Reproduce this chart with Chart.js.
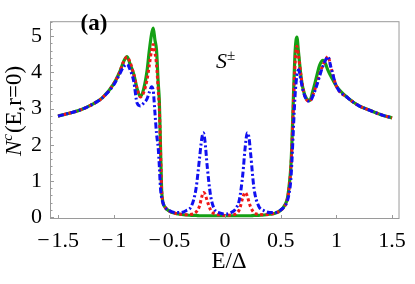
<!DOCTYPE html>
<html><head><meta charset="utf-8">
<script src="https://cdn.jsdelivr.net/npm/chart.js@4"></script>
<style>html,body{margin:0;padding:0;background:#fff}#wrap{width:415px;height:284px}</style>
</head><body><div id="wrap"><canvas id="c" width="415" height="284"></canvas></div>
<script>
const energy = [-1.5,-1.4,-1.3,-1.2,-1.1,-1.0,-0.95,-0.91,-0.88,-0.85,-0.82,-0.79,-0.76,-0.73,-0.7,-0.68,-0.66,-0.645,-0.63,-0.615,-0.6,-0.59,-0.58,-0.57,-0.56,-0.54,-0.5,-0.45,-0.4,-0.35,-0.3,-0.26,-0.23,-0.21,-0.195,-0.18,-0.16,-0.13,-0.1,-0.05,0,0.05,0.1,0.13,0.16,0.18,0.2,0.215,0.23,0.26,0.3,0.35,0.4,0.45,0.5,0.54,0.56,0.575,0.59,0.6,0.615,0.63,0.645,0.66,0.68,0.7,0.73,0.76,0.79,0.82,0.85,0.88,0.9,0.925,0.95,1.0,1.1,1.2,1.3,1.4,1.5];
const greenDOS = [2.79,2.87,2.96,3.1,3.3,3.68, 3.98,4.3,4.43,4.2,3.95,3.55,3.33,3.55,4.05, 4.6,5.05,5.22,4.9,4.6,3.7,3.2,2.0,0.8,0.45, 0.28,0.17,0.11,0.08,0.06,0.05, 0.05,0.04,0.04,0.04,0.04,0.04,0.04,0.04,0.04,0.04,
  0.04,0.04,0.04,0.04,0.04,0.04,0.04,0.04,0.05,0.05, 0.06,0.08,0.11,0.19,0.35,0.52,0.85,1.35,2.0,3.4, 4.6,4.97,4.55,3.95,3.55,3.28,3.22,3.5,3.85,4.2, 4.33,4.25,4.05,3.9,3.62,3.3,3.08,2.95,2.83,2.74];
const redDOS = [2.79,2.87,2.96,3.1,3.3,3.68, 3.98,4.3,4.42,4.25,3.95,3.55,3.32,3.45,3.8, 4.2,4.6,4.77,4.55,4.2,3.5,3.0,1.9,0.8,0.45, 0.28,0.17,0.11,0.08,0.07,0.08, 0.14,0.3,0.55,0.68,0.64,0.45,0.2,0.1,0.06,0.05,
  0.06,0.1,0.22,0.55,0.68,0.58,0.42,0.28,0.13,0.08, 0.07,0.08,0.11,0.19,0.33,0.5,0.8,1.3,1.9,3.2, 4.3,4.72,4.45,3.95,3.55,3.25,3.2,3.38,3.65,3.95, 4.2,4.33,4.43,4.15,3.62,3.3,3.08,2.95,2.83,2.74];
const blueDOS = [2.79,2.87,2.96,3.1,3.3,3.65, 3.93,4.15,4.22,4.05,3.75,3.15,3.07,3.15,3.27, 3.45,3.6,3.5,2.9,2.3,1.9,1.4,0.8,0.55,0.42, 0.28,0.18,0.13,0.13,0.18,0.32, 0.8,1.6,2.15,2.33,2.1,1.4,0.6,0.25,0.12,0.09,
  0.12,0.25,0.5,1.2,1.9,2.33,2.2,1.75,0.8,0.32, 0.18,0.13,0.13,0.2,0.32,0.45,0.65,1.0,1.5,2.5, 3.4,3.9,4.07,3.8,3.5,3.25,3.2,3.35,3.6,3.9, 4.18,4.32,4.43,4.15,3.62,3.3,3.08,2.95,2.83,2.74];
const xTicks = [-1.5,-1,-0.5,0,0.5,1,1.5];
const xTickLabels = ['\u2212\u200a1.5','\u2212\u200a1','\u2212\u200a0.5','0','0.5','1','1.5'];
const yTicks = [0,1,2,3,4,5];

const pts = arr => energy.map((e,i)=>({x:e,y:arr[i]}));
const FRAME = '#9a9a9a';
const SERIF = '"Liberation Serif","Times New Roman",serif';

const decor = {
  id:'decor',
  afterDatasetsDraw(chart){
    const {ctx, chartArea:a, scales:{x,y}} = chart;
    ctx.save();
    ctx.strokeStyle = FRAME; ctx.lineWidth = 1;
    ctx.strokeRect(a.left+0.5, a.top+0.5, a.right-a.left-1, a.bottom-a.top-1);
    ctx.beginPath();
    xTicks.forEach(v=>{const px=Math.round(x.getPixelForValue(v))+0.5; ctx.moveTo(px,a.bottom); ctx.lineTo(px,a.bottom-4);});
    for(let k=0;k<=27;k++){const v=k*0.2; const py=Math.round(y.getPixelForValue(v))+0.5; const major=(k%5===0); ctx.moveTo(a.left,py); ctx.lineTo(a.left+(major?4:2.5),py);}
    ctx.stroke();
    ctx.fillStyle='#000';
    ctx.textBaseline='alphabetic';
    ctx.font='bold 23px '+SERIF; ctx.textAlign='center';
    ctx.fillText('(a)', 94, 30);
    ctx.font='italic 22px '+SERIF; ctx.textAlign='left';
    ctx.fillText('S', 216, 68);
    ctx.font='15px '+SERIF;
    ctx.fillText('\u00b1', 227, 60);
    ctx.font='23px '+SERIF; ctx.textAlign='center';
    ctx.fillText('E/\u0394', 229, 268);
    ctx.translate(21, 111); ctx.rotate(-Math.PI/2);
    const f1='italic 23px '+SERIF, f2='italic 15px '+SERIF, f3='23px '+SERIF;
    ctx.font=f1; const w1=ctx.measureText('N').width;
    ctx.font=f2; const w2=ctx.measureText('c').width;
    ctx.font=f3; const w3=ctx.measureText('(E,r=0)').width;
    let sx=-(w1+w2+w3+1)/2;
    ctx.textAlign='left';
    ctx.font=f1; ctx.fillText('N', sx, 0); sx+=w1;
    ctx.font=f2; ctx.fillText('c', sx, -9); sx+=w2+1;
    ctx.font=f3; ctx.fillText('(E,r=0)', sx, 0);
    ctx.restore();
  }
};

new Chart(document.getElementById('c'), {
  type:'line',
  data:{datasets:[
    {label:'blue', data:pts(blueDOS), borderColor:'#1010f0', borderWidth:3, borderDash:[6,2.5,2,2.5], order:0},
    {label:'red', data:pts(redDOS), borderColor:'#f01818', borderWidth:3, borderDash:[3,2.5], order:1},
    {label:'green', data:pts(greenDOS), borderColor:'#14a014', borderWidth:3.2, order:2}
  ]},
  options:{
    responsive:false, animation:false, devicePixelRatio:1,
    layout:{padding:{top:1,right:9,left:0,bottom:0}},
    plugins:{legend:{display:false}, tooltip:{enabled:false}},
    elements:{point:{radius:0}, line:{cubicInterpolationMode:'monotone', borderCapStyle:'butt', fill:false}},
    scales:{
      x:{type:'linear', min:-1.572, max:1.567,
         grid:{display:false, drawTicks:false}, border:{display:false},
         afterBuildTicks:s=>{s.ticks=xTicks.map(v=>({value:v}));},
         afterFit:s=>{s.height=65;},
         ticks:{padding:9, maxRotation:0, autoSkip:false, color:'#000', font:{family:SERIF, size:22},
           callback:(v)=>{const i=xTicks.indexOf(v); return i>=0?xTickLabels[i]:'';}}},
      y:{type:'linear', min:-0.05, max:5.41,
         grid:{display:false, drawTicks:false}, border:{display:false},
         afterBuildTicks:s=>{s.ticks=yTicks.map(v=>({value:v}));},
         afterFit:s=>{s.width=50;},
         ticks:{padding:8, autoSkip:false, color:'#000', font:{family:SERIF, size:22}, callback:v=>String(v)}}
    }
  },
  plugins:[decor]
});
</script></body></html>
